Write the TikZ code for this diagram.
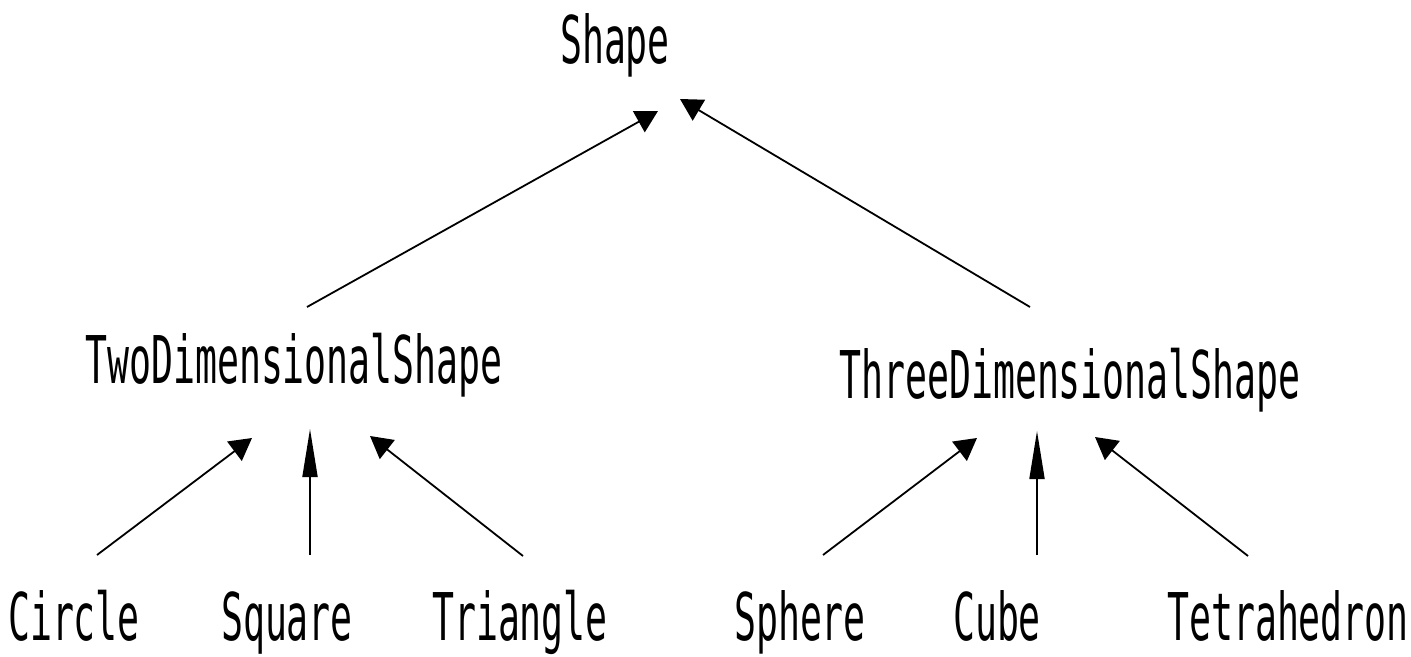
\documentclass[tikz,border=0pt]{standalone}
\usepackage{fontspec}
\newfontfamily\labelfont[FakeStretch=0.555]{DejaVu Sans Mono}
\usetikzlibrary{arrows.meta}
\begin{document}
\begin{tikzpicture}[x=1pt,y=-1pt,
  lbl/.style={font=\labelfont\fontsize{65.8}{70}\selectfont, inner sep=0pt, anchor=base},
  inh/.style={line width=1.8pt, -{Triangle[length=22pt,width=24pt]}},
  inhv/.style={line width=1.8pt, -{Triangle[length=48pt,width=15pt]}}]
\useasboundingbox (0,0) rectangle (1411,656);
% classes
\node[lbl] (shape)    at (615,63)  {Shape};
\node[lbl] (two)      at (294,383) {TwoDimensionalShape};
\node[lbl] (three)    at (1070,398) {ThreeDimensionalShape};
\node[lbl] (circle)   at (74,640)  {Circle};
\node[lbl] (square)   at (287,640) {Square};
\node[lbl] (triangle) at (520,640) {Triangle};
\node[lbl] (sphere)   at (800,640) {Sphere};
\node[lbl] (cube)     at (997,640) {Cube};
\node[lbl] (tetra)    at (1288,640) {Tetrahedron};
% connector ends
\coordinate (twoTop)      at (307,307);
\coordinate (threeTop)    at (1030,307);
\coordinate (shapeL)      at (658,111);
\coordinate (shapeR)      at (680,99);
\coordinate (circleTop)   at (97,555);
\coordinate (squareTop)   at (310,555);
\coordinate (triangleTop) at (523,556);
\coordinate (twoL)        at (252,438);
\coordinate (twoM)        at (310,429);
\coordinate (twoR)        at (370,436);
\coordinate (sphereTop)   at (823,555);
\coordinate (cubeTop)     at (1037,555);
\coordinate (tetraTop)    at (1248,556);
\coordinate (threeL)      at (977,438);
\coordinate (threeM)      at (1037,431);
\coordinate (threeR)      at (1095,437);
% inheritance arrows
\draw[inh]  (twoTop) -- (shapeL);
\draw[inh]  (threeTop) -- (shapeR);
\draw[inh]  (circleTop) -- (twoL);
\draw[inhv] (squareTop) -- (twoM);
\draw[inh]  (triangleTop) -- (twoR);
\draw[inh]  (sphereTop) -- (threeL);
\draw[inhv] (cubeTop) -- (threeM);
\draw[inh]  (tetraTop) -- (threeR);
\end{tikzpicture}
\end{document}
